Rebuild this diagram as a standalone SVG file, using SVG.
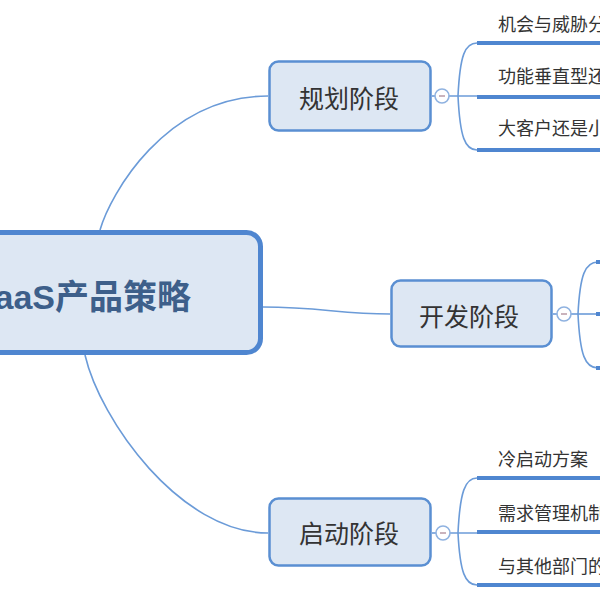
<svg xmlns="http://www.w3.org/2000/svg" width="600" height="600" viewBox="0 0 600 600">
  <style>
    .box { fill: #dde7f3; stroke: #5a8fd2; stroke-width: 2.5; }
    .root { fill: #dde7f3; stroke: #4f86d0; stroke-width: 5; }
    .conn { fill: none; stroke: #6b9bd8; stroke-width: 1.6; }
    .thick { fill: none; stroke: #4f86d0; stroke-width: 4; }
    .tog { fill: #ffffff; stroke: #8fb2e0; stroke-width: 1.6; }
    .minus { stroke: #b89aa6; stroke-width: 1.5; }
    .node-t { font-family: "Noto Sans CJK SC", "Liberation Sans", sans-serif; font-size: 25px; fill: #333333; text-anchor: middle; }
    .root-t { font-family: "Liberation Sans", "Noto Sans CJK SC", sans-serif; font-size: 34px; font-weight: bold; fill: #3d5f8a; text-anchor: end; }
    .leaf-t { font-family: "Noto Sans CJK SC", "Liberation Sans", sans-serif; font-size: 18px; fill: #333333; }
  </style>
  <rect width="600" height="600" fill="#ffffff"/>

  <g id="connectors">
    <path class="conn" d="M100,230 C110,195 165,96 268,96"/>
    <path class="conn" d="M263,307 C320,307 340,314 390,314"/>
    <path class="conn" d="M85,355 C100,420 180,533 268,533"/>
    <!-- planning branches -->
    <path class="conn" d="M432,96 L435,96"/>
    <path class="conn" d="M449,96 L600,96"/>
    <path class="conn" d="M458,96 C460,55 465,43 477,43"/>
    <path class="conn" d="M458,96 C460,137 465,150 477,150"/>
    <path class="thick" d="M477,43 L600,43"/>
    <path class="thick" d="M477,97 L600,97"/>
    <path class="thick" d="M477,150 L600,150"/>
    <!-- dev branches -->
    <path class="conn" d="M553,314 L557,314"/>
    <path class="conn" d="M571,314 L600,314"/>
    <path class="conn" d="M578,314 C580,275 585,262 598,262"/>
    <path class="conn" d="M578,314 C580,355 585,368 598,368"/>
    <path class="thick" d="M596,262 L600,262"/>
    <path class="thick" d="M596,314 L600,314"/>
    <path class="thick" d="M596,368 L600,368"/>
    <!-- launch branches -->
    <path class="conn" d="M432,533 L436,533"/>
    <path class="conn" d="M450,533 L600,533"/>
    <path class="conn" d="M458,533 C460,492 465,478 477,478"/>
    <path class="conn" d="M458,533 C460,572 465,585 477,585"/>
    <path class="thick" d="M477,478 L600,478"/>
    <path class="thick" d="M477,532 L600,532"/>
    <path class="thick" d="M477,585 L600,585"/>
  </g>

  <g id="root">
    <rect class="root" x="-20" y="232.5" width="280.5" height="120" rx="14"/>
    <text class="root-t" x="191" y="309">aaS产品策略</text>
  </g>

  <g id="planning">
    <rect class="box" x="269.5" y="61.5" width="161" height="69" rx="9"/>
    <text class="node-t" x="349" y="108">规划阶段</text>
    <circle class="tog" cx="442" cy="96" r="7"/>
    <line class="minus" x1="439" y1="96" x2="445" y2="96"/>
  </g>

  <g id="development">
    <rect class="box" x="391.5" y="280.5" width="160" height="66" rx="9"/>
    <text class="node-t" x="469" y="326">开发阶段</text>
    <circle class="tog" cx="564" cy="314" r="7"/>
    <line class="minus" x1="561" y1="314" x2="567" y2="314"/>
  </g>

  <g id="launch">
    <rect class="box" x="269.5" y="498.5" width="161" height="67" rx="9"/>
    <text class="node-t" x="349" y="543">启动阶段</text>
    <circle class="tog" cx="443" cy="533" r="7"/>
    <line class="minus" x1="440" y1="533" x2="446" y2="533"/>
  </g>

  <g id="leaf-planning-1"><text class="leaf-t" x="498" y="31">机会与威胁分</text></g>
  <g id="leaf-planning-2"><text class="leaf-t" x="498" y="83">功能垂直型还</text></g>
  <g id="leaf-planning-3"><text class="leaf-t" x="498" y="135">大客户还是小</text></g>
  <g id="leaf-launch-1"><text class="leaf-t" x="498" y="466">冷启动方案</text></g>
  <g id="leaf-launch-2"><text class="leaf-t" x="498" y="520">需求管理机制</text></g>
  <g id="leaf-launch-3"><text class="leaf-t" x="498" y="573">与其他部门的</text></g>
</svg>
